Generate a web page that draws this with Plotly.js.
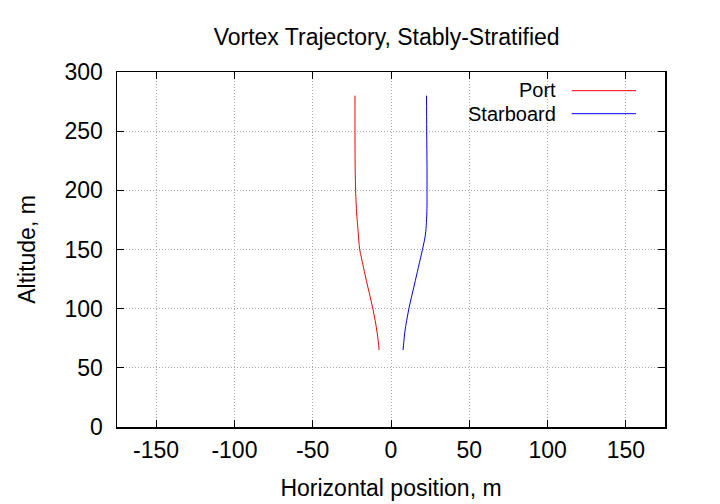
<!DOCTYPE html>
<html>
<head>
<meta charset="utf-8">
<script src="https://cdn.plot.ly/plotly-3.0.1.min.js"></script>
<style>html,body{margin:0;padding:0;background:#fff;}#chart{width:720px;height:504px;}</style>
</head>
<body>
<div id="chart"></div>
<script>
// Data
const altitude   = [280, 250, 220, 200, 190, 180, 175, 165, 158, 150, 143, 135, 120, 110, 100, 90, 80, 72, 65];
const portX      = [-23.0, -23.0, -22.9, -22.6, -22.3, -21.9, -21.6, -21.0, -20.6, -20.0, -18.9, -17.6, -15.1, -13.3, -11.6, -10.1, -8.9, -8.1, -7.6];
const starboardX = [22.7, 22.8, 23.0, 23.0, 23.0, 22.9, 22.7, 22.2, 21.4, 20.1, 18.9, 17.5, 14.9, 13.1, 11.4, 10.0, 8.8, 8.2, 7.7];
const seriesNames = ["Port", "Starboard"];
const xTicks = [-150, -100, -50, 0, 50, 100, 150];
const yTicks = [0, 50, 100, 150, 200, 250, 300];

const FONT = "Liberation Sans, Arial, sans-serif";
const FS = 23;
const LFS = 20;
const traces = [
  {x: portX, y: altitude, mode: "lines", name: seriesNames[0], line: {color: "#ff0000", width: 1, shape: "spline"}, showlegend: false},
  {x: starboardX, y: altitude, mode: "lines", name: seriesNames[1], line: {color: "#0000ff", width: 1, shape: "spline"}, showlegend: false}
];

const axisCommon = {
  showline: true, linecolor: "#000", linewidth: 1.5, mirror: "ticks",
  ticks: "inside", ticklen: 7, tickcolor: "#000", tickwidth: 1,
  showgrid: true, gridcolor: "#a8a8a8", griddash: "1px,2px", gridwidth: 1,
  zeroline: false, tickfont: {family: FONT, size: FS, color: "#000"}
};

const layout = {
  width: 720, height: 504,
  margin: {l: 117, r: 55, t: 72, b: 77},
  paper_bgcolor: "#fff", plot_bgcolor: "#fff",
  title: {text: "Vortex Trajectory, Stably-Stratified", font: {family: FONT, size: FS, color: "#000"}, x: 0.537, xanchor: "center", y: 0.927, yanchor: "middle"},
  xaxis: Object.assign({}, axisCommon, {range: [-175, 175], tickvals: xTicks, ticktext: xTicks.map(String), ticklabelstandoff: 2,
    title: {text: "Horizontal position, m", font: {family: FONT, size: FS, color: "#000"}, standoff: 18}}),
  yaxis: Object.assign({}, axisCommon, {range: [0, 300], tickvals: yTicks, ticktext: yTicks.map(String), ticklabelstandoff: 8,
    title: {text: "Altitude, m", font: {family: FONT, size: FS, color: "#000"}, standoff: 22}}),
  annotations: [
    {xref: "paper", yref: "paper", x: (557-117)/548, y: (427-89.5)/355, xanchor: "right", yanchor: "middle", borderpad: 0, text: seriesNames[0], showarrow: false, font: {family: FONT, size: LFS, color: "#000"}},
    {xref: "paper", yref: "paper", x: (557-117)/548, y: (427-114.5)/355, xanchor: "right", yanchor: "middle", borderpad: 0, text: seriesNames[1], showarrow: false, font: {family: FONT, size: LFS, color: "#000"}}
  ],
  shapes: [
    {type: "line", xref: "paper", yref: "paper", x0: (571.7-117)/548, x1: (636-117)/548, y0: (427-90.7)/355, y1: (427-90.7)/355, line: {color: "#ff0000", width: 1}},
    {type: "line", xref: "paper", yref: "paper", x0: (571.7-117)/548, x1: (636-117)/548, y0: (427-113.7)/355, y1: (427-113.7)/355, line: {color: "#0000ff", width: 1}}
  ]
};

Plotly.newPlot("chart", traces, layout, {displayModeBar: false, staticPlot: true});
</script>
</body>
</html>
